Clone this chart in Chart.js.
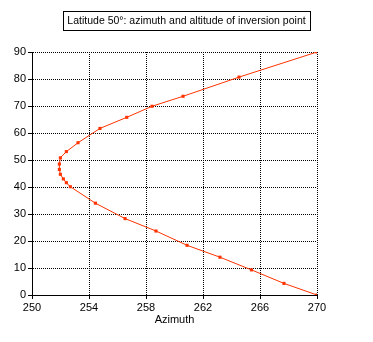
<!DOCTYPE html>
<html>
<head>
<meta charset="utf-8">
<script src="https://cdn.jsdelivr.net/npm/chart.js@4/dist/chart.umd.min.js"></script>
<style>
html,body{margin:0;padding:0;background:#fff;}
#wrap{width:373px;height:342px;position:relative;}
</style>
</head>
<body>
<div id="wrap"><canvas id="c" width="373" height="342"></canvas></div>
<script>
const titleText = "Latitude 50°: azimuth and altitude of inversion point";
const xAxisTitle = "Azimuth";
const azimuth  = [270, 267.68, 265.4, 263.19, 260.88, 258.7, 256.53, 254.45, 252.69, 252.41, 252.2, 251.99, 251.92, 251.92, 251.99, 252.41, 253.23, 254.77, 256.65, 258.42, 260.6, 264.53, 270];
const altitude = [0, 4.3, 9.3, 14.0, 18.4, 23.7, 28.3, 34.0, 40.1, 41.6, 43.0, 44.7, 46.5, 48.5, 50.8, 53.1, 56.4, 61.7, 65.8, 69.9, 73.6, 80.7, 90];
const xMin = 250, xMax = 270, xStep = 4;
const yMin = 0, yMax = 90, yStep = 10;

const points = azimuth.map((a, i) => ({x: a, y: altitude[i]}));
const FONT = "'Liberation Sans', Arial, sans-serif";
const TSIZE = 10.5;

const titleBox = {
  id: 'titleBox',
  afterDraw(chart) {
    const tb = chart.titleBlock;
    const ctx = chart.ctx;
    ctx.save();
    ctx.font = TSIZE + "px " + FONT;
    const w = ctx.measureText(titleText).width;
    const cx = tb.left + tb.width / 2;
    ctx.strokeStyle = '#000';
    ctx.lineWidth = 1;
    ctx.strokeRect(Math.round(cx - w / 2 - 4) + 0.5, 11.5, Math.round(w + 9), 19);
    ctx.restore();
  }
};

new Chart(document.getElementById('c'), {
  type: 'scatter',
  data: {
    datasets: [{
      data: points,
      showLine: true,
      borderColor: '#ff3300',
      backgroundColor: '#ff3300',
      borderWidth: 1,
      pointStyle: 'rect',
      pointRadius: 2.2,
      pointBorderWidth: 0,
      tension: 0
    }]
  },
  options: {
    responsive: false,
    animation: false,
    layout: {padding: {left: 0, right: 0, top: 0, bottom: 0}},
    plugins: {
      legend: {display: false},
      tooltip: {enabled: false},
      title: {
        display: true,
        text: titleText,
        color: '#000',
        font: {family: FONT, size: TSIZE, weight: 'normal', lineHeight: 1.2},
        padding: {top: 14.5, bottom: 24.9}
      }
    },
    scales: {
      x: {
        type: 'linear',
        min: xMin, max: xMax,
        afterFit: s => { s.height = 47; },
        ticks: {stepSize: xStep, color: '#000', padding: 2, font: {family: FONT, size: 11}, maxRotation: 0},
        grid: {color: '#000', tickLength: 4, tickBorderDash: [], tickColor: '#000', lineWidth: 1},
        border: {display: true, color: '#000', width: 1, dash: [1, 1]},
        title: {display: true, text: xAxisTitle, color: '#000', font: {family: FONT, size: 11}, padding: {top: 0, bottom: 15.4}}
      },
      y: {
        type: 'linear',
        min: yMin, max: yMax,
        afterFit: s => { s.width = 32; },
        ticks: {stepSize: yStep, color: '#000', padding: 2, font: {family: FONT, size: 11}},
        grid: {color: '#000', tickLength: 4, tickBorderDash: [], tickColor: '#000', lineWidth: 1},
        border: {display: true, color: '#000', width: 1, dash: [1, 1]}
      },
      yr: {
        type: 'linear',
        position: 'right',
        display: true,
        afterFit: s => { s.width = 56; },
        ticks: {display: false},
        grid: {display: false},
        border: {display: false}
      }
    }
  },
  plugins: [titleBox]
});
</script>
</body>
</html>
